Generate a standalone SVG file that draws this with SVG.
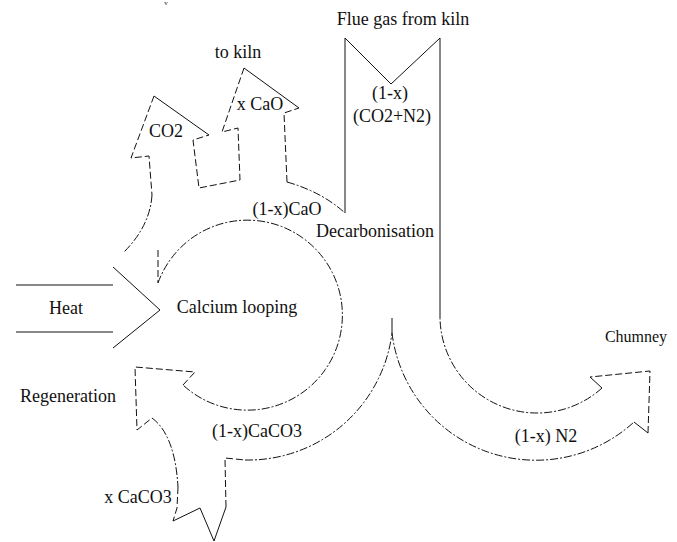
<svg xmlns="http://www.w3.org/2000/svg" width="677" height="542" viewBox="0 0 677 542">
<style>
.s{fill:none;stroke:#111;stroke-width:1}
.d{fill:none;stroke:#111;stroke-width:1;stroke-dasharray:7 3}
.c{fill:none;stroke:#111;stroke-width:1;stroke-dasharray:8 2 2 2}
text{font-family:"Liberation Serif","Times New Roman",serif;font-size:18px;fill:#111;text-anchor:middle}
</style>
<rect width="677" height="542" fill="#fff"/>
<g id="connectors">
<g id="heat">
<path class="s" d="M16,285 H113 M16,332 H113 M113,267 L160,310 L113,348"/>
</g>
<g id="flue-gas">
<path class="s" d="M345,213 L345,38 L391,84 L440,38 L440,318"/>
<path class="c" d="M287,182 Q322,192 345,213"/>
</g>
<g id="outputs">
<path class="d" d="M287,182 L284,113 L299,108"/>
<path class="s" d="M299,108 L244,68"/>
<path class="d" d="M244,68 L222,132 L238,128 L240,180 L199,188 L193,140 L209,135"/>
<path class="s" d="M209,135 L154,96"/>
<path class="d" d="M154,96 L131,158 L149,156 L152,195"/>
<path class="c" d="M152,195 Q150,226 124,252"/>
<path class="d" d="M158,250 L158,283"/>
</g>
<g id="loop">
<path class="c" d="M158,283 A95,95 0 1 1 183,385"/>
</g>
<g id="regeneration">
<path class="d" d="M183,385 L195,372 L135,367 L137,430 L152,418"/>
<path class="c" d="M152,418 Q175,435 178,487"/>
<path class="d" d="M178,487 L177,508 L173,521"/>
<path class="s" d="M173,521 L200,508 L214,541 L226,507"/>
<path class="d" d="M226,507 L225,458 L245,460"/>
<path class="c" d="M245,460 A145,145 0 0 0 392,333"/>
<path class="s" d="M392,333 L392,318"/>
</g>
<g id="chimney">
<path class="c" d="M392,333 A145,145 0 0 0 634,422"/>
<path class="s" d="M634,422 L648,433"/>
<path class="d" d="M648,433 L650,371 L590,377"/>
<path class="s" d="M590,377 L602,388"/>
<path class="c" d="M602,388 A97,97 0 0 1 440,318"/>
</g>
</g>
<g id="labels">
<text x="166" y="5" style="font-size:7px">v</text>
<text x="403" y="25">Flue gas from kiln</text>
<text x="238" y="58">to kiln</text>
<text x="166" y="137">CO2</text>
<text x="260" y="110">x CaO</text>
<text x="390" y="99">(1-x)</text>
<text x="392" y="122">(CO2+N2)</text>
<text x="287" y="215">(1-x)CaO</text>
<text x="375" y="237">Decarbonisation</text>
<text x="66" y="314">Heat</text>
<text x="237" y="313">Calcium looping</text>
<text x="636" y="342" style="font-size:16px">Chumney</text>
<text x="68" y="402">Regeneration</text>
<text x="257" y="437">(1-x)CaCO3</text>
<text x="138" y="503">x CaCO3</text>
<text x="546" y="442">(1-x) N2</text>
</g>
</svg>
